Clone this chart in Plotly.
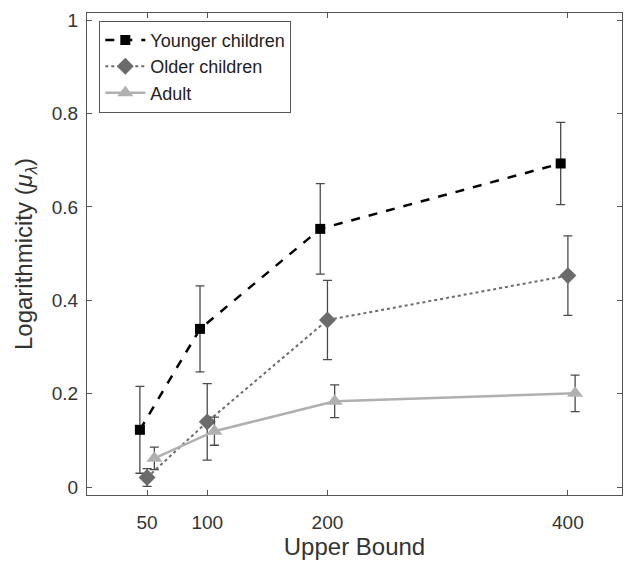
import plotly.graph_objects as go

upper_bounds = [50, 100, 200, 400]
tick_labels = ["50", "100", "200", "400"]

younger = [0.123, 0.339, 0.553, 0.693]
younger_err = [0.093, 0.092, 0.097, 0.088]

older = [0.021, 0.140, 0.358, 0.453]
older_err = [0.019, 0.082, 0.085, 0.085]

adult = [0.062, 0.120, 0.184, 0.201]
adult_err = [0.024, 0.030, 0.035, 0.039]

series = [
    dict(name="Younger children", y=younger, e=younger_err, off=-6,
         color="#000000", dash="dash", lw=2.5, symbol="square", size=10),
    dict(name="Older children", y=older, e=older_err, off=0,
         color="#6b6b6b", dash="dot", lw=2, symbol="diamond", size=13),
    dict(name="Adult", y=adult, e=adult_err, off=6,
         color="#b0b0b0", dash="solid", lw=2.5, symbol="triangle-up", size=14),
]

fig = go.Figure()
for s in series:
    fig.add_trace(go.Scatter(
        x=[b + s["off"] for b in upper_bounds],
        y=s["y"],
        name=s["name"],
        mode="lines+markers",
        line=dict(color=s["color"], width=s["lw"], dash=s["dash"]),
        marker=dict(symbol=s["symbol"], size=s["size"], color=s["color"]),
        error_y=dict(type="data", array=s["e"], visible=True,
                     color="#4a4a4a", thickness=1.3, width=4.5),
    ))

axis_common = dict(
    showline=True, linecolor="#555555", linewidth=1, mirror="ticks",
    ticks="inside", ticklen=5, tickcolor="#555555", showgrid=False,
    zeroline=False, tickfont=dict(size=19, color="#333333"),
)

fig.update_layout(
    width=624, height=565,
    margin=dict(l=87, r=2, t=13, b=70),
    paper_bgcolor="white", plot_bgcolor="white",
    font=dict(family="Liberation Sans, Arial, sans-serif", color="#333333"),
    xaxis=dict(range=[0, 445], tickvals=upper_bounds, ticktext=tick_labels,
               ticklabelstandoff=10,
               title=dict(text="Upper Bound", font=dict(size=24), standoff=6),
               **axis_common),
    yaxis=dict(range=[-0.0165, 1.015], tickvals=[0, 0.2, 0.4, 0.6, 0.8, 1],
               ticktext=["0", "0.2", "0.4", "0.6", "0.8", "1"],
               ticklabelstandoff=4,
               title=dict(text="Logarithmicity (<i>μ</i><sub><i>λ</i></sub>)",
                          font=dict(size=24), standoff=12),
               **axis_common),
    legend=dict(x=0.023, y=0.984, xanchor="left", yanchor="top",
                bgcolor="white", bordercolor="#555555", borderwidth=1,
                font=dict(size=18, color="#222222"), tracegroupgap=0,
                itemwidth=40),
    showlegend=True,
)

fig.write_html("out.html")
